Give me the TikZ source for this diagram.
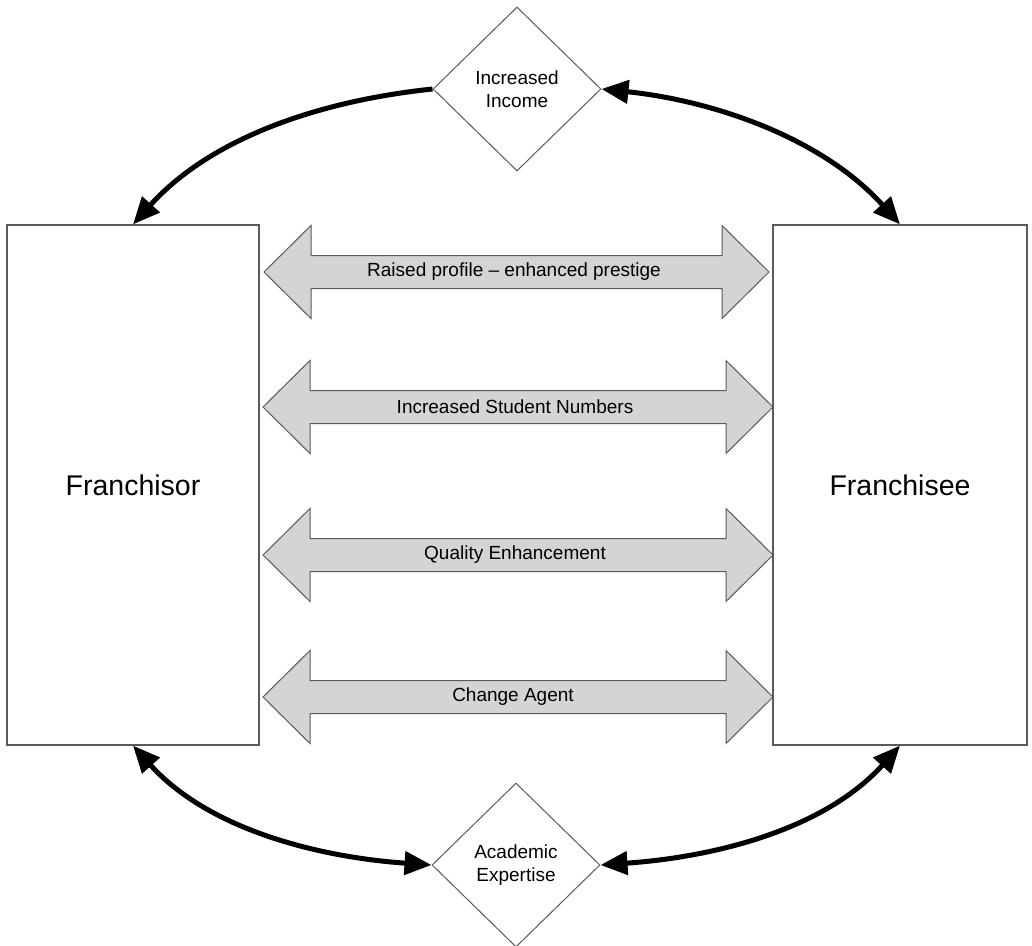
\documentclass[tikz,border=0pt]{standalone}
\usepackage{fontspec}
\setmainfont{Liberation Sans}
\usetikzlibrary{shapes.geometric,arrows.meta}
\definecolor{edgegray}{HTML}{5A5A5A}
\definecolor{blockfill}{HTML}{D4D4D4}
\tikzset{
  party/.style={draw=edgegray, line width=1.2pt, rectangle, minimum height=520pt, font=\fontsize{28.5}{34}\selectfont},
  goal/.style={draw=edgegray, line width=1pt, diamond, minimum width=168pt, minimum height=164pt, inner sep=0pt, align=center, font=\fontsize{19}{23}\selectfont},
  flow/.style={line width=5pt, line cap=butt, >={Triangle[length=27pt,width=23pt]}},
  blk/.style={draw=edgegray, fill=blockfill, line width=1pt, line join=miter},
  blklabel/.style={font=\fontsize{19}{23}\selectfont, inner sep=0pt}
}
\newcommand{\blockarrow}[3]{%
  \path[blk] (#1,#3) -- ({#1+47},{#3-46.5}) -- ({#1+47},{#3-16.5}) -- ({#2-47},{#3-16.5}) -- ({#2-47},{#3-46.5}) -- (#2,#3) -- ({#2-47},{#3+46.5}) -- ({#2-47},{#3+16.5}) -- ({#1+47},{#3+16.5}) -- ({#1+47},{#3+46.5}) -- cycle;
}
\begin{document}
\begin{tikzpicture}[x=1pt,y=-1pt]
\useasboundingbox (0,0) rectangle (1032,945);
\fill[white] (0,0) rectangle (1032,945);

\node[party, minimum width=252pt] (fror) at (133,485) {Franchisor};
\node[party, minimum width=254pt] (fee) at (900,485) {Franchisee};

\node[goal] (inc) at (517,89) {Increased\\Income};
\node[goal] (aca) at (516,865) {Academic\\Expertise};

\blockarrow{264}{769}{272}
\node[blklabel] (l1) at (514,272) {Raised profile – enhanced prestige};
\blockarrow{263}{773}{407}
\node[blklabel] (l2) at (515,407) {Increased Student Numbers};
\blockarrow{263}{773}{555}
\node[blklabel] (l3) at (515,555) {Quality Enhancement};
\blockarrow{263}{773}{697}
\node[blklabel] (l4) at (513,697) {Change Agent};

\draw[flow, ->] (inc.west) to[out=186,in=48,looseness=0.9] (fror.north);
\draw[flow, <->] (inc.east) to[out=-6,in=132,looseness=0.9] (fee.north);
\draw[flow, <->] (fror.south) to[out=-48,in=176,looseness=0.9] (aca.west);
\draw[flow, <->] (aca.east) to[out=4,in=-132,looseness=0.9] (fee.south);
\end{tikzpicture}
\end{document}
